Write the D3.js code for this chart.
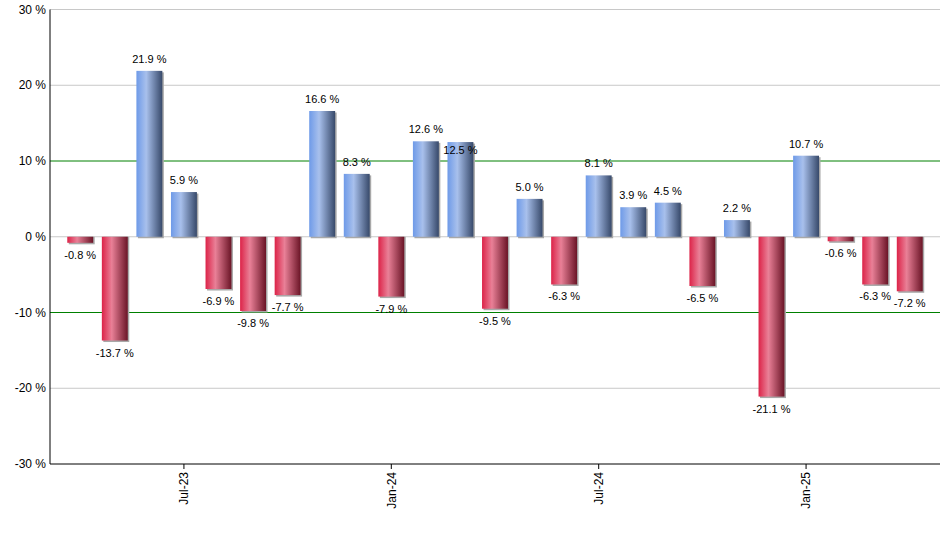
<!DOCTYPE html>
<html>
<head>
<meta charset="utf-8">
<script src="https://cdn.jsdelivr.net/npm/d3@7"></script>
<style>
  body { margin: 0; background: #fff; }
  text { font-family: Arial, "Liberation Sans", sans-serif; }
</style>
</head>
<body>
<div id="chart"></div>
<script>
// monthly returns, Apr-23 .. Apr-25
const months = ["Apr-23","May-23","Jun-23","Jul-23","Aug-23","Sep-23","Oct-23","Nov-23","Dec-23",
  "Jan-24","Feb-24","Mar-24","Apr-24","May-24","Jun-24","Jul-24","Aug-24","Sep-24","Oct-24",
  "Nov-24","Dec-24","Jan-25","Feb-25","Mar-25","Apr-25"]
const returns = [-0.8, -13.7, 21.9, 5.9, -6.9, -9.8, -7.7, 16.6, 8.3, -7.9, 12.6, 12.5, -9.5, 5.0,
  -6.3, 8.1, 3.9, 4.5, -6.5, 2.2, -21.1, 10.7, -0.6, -6.3, -7.2]
const xTickLabels = ["Jul-23", "Jan-24", "Jul-24", "Jan-25"]
const yTicks = [-30, -20, -10, 0, 10, 20, 30]
const greenLines = [-10, 10]

const svgWidth = 940
const svgHeight = 550
const margin = { left: 50, right: 0, top: 9.5, bottom: 86 }

const svg = d3.select("#chart").append("svg")
    .attr("width", svgWidth)
    .attr("height", svgHeight)

const defs = svg.append("defs")
function addGradient(id, c0, c1, c2) {
    const g = defs.append("linearGradient")
        .attr("id", id)
        .attr("x1", "0%").attr("x2", "100%")
        .attr("y1", "0%").attr("y2", "0%")
    g.append("stop").attr("offset", "0%").attr("stop-color", c0)
    g.append("stop").attr("offset", "38%").attr("stop-color", c1)
    g.append("stop").attr("offset", "100%").attr("stop-color", c2)
}
addGradient("gradPos", "#6e9ae8", "#a8c0ec", "#37496a")
addGradient("gradNeg", "#dc2348", "#e98097", "#6a1426")

const xScale = d3.scaleBand()
    .domain(months)
    .range([margin.left, svgWidth - margin.right])
    .paddingInner(0.25)
    .paddingOuter(0.5)

const yScale = d3.scaleLinear()
    .domain([-30, 30])
    .range([svgHeight - margin.bottom, margin.top])

// grid lines
svg.append("g")
    .selectAll("line")
    .data(yTicks.filter(d => d !== -30))
    .join("line")
    .attr("x1", margin.left)
    .attr("x2", svgWidth)
    .attr("y1", d => yScale(d))
    .attr("y2", d => yScale(d))
    .attr("stroke", d => greenLines.includes(d) ? "#008000" : "#c8c8c8")
    .attr("stroke-width", 1)

// bars (shadow first)
svg.append("g")
    .selectAll("rect")
    .data(returns)
    .join("rect")
    .attr("x", (d, i) => xScale(months[i]) + 1.5)
    .attr("y", d => d >= 0 ? yScale(d) + 1.5 : yScale(0))
    .attr("width", xScale.bandwidth())
    .attr("height", d => Math.abs(yScale(d) - yScale(0)) + (d < 0 ? 1.5 : 0))
    .attr("fill", "#a8a8a8")

svg.append("g")
    .selectAll("rect")
    .data(returns)
    .join("rect")
    .attr("x", (d, i) => xScale(months[i]))
    .attr("y", d => yScale(Math.max(d, 0)))
    .attr("width", xScale.bandwidth())
    .attr("height", d => Math.abs(yScale(d) - yScale(0)))
    .attr("fill", d => d >= 0 ? "url(#gradPos)" : "url(#gradNeg)")

// value labels, shift down when they sit on top of the previous label
let prev = null
const labels = returns.map((d, i) => {
    const x = xScale(months[i]) + xScale.bandwidth() / 2
    let y = d >= 0 ? yScale(d) - 8 : yScale(d) + 16
    if (prev && Math.abs(prev.x - x) < 40 && Math.abs(prev.y - y) < 3) y = prev.y + 21
    prev = { x, y }
    return { x, y, text: d.toFixed(1) + " %" }
})
svg.append("g")
    .selectAll("text")
    .data(labels)
    .join("text")
    .attr("x", d => d.x)
    .attr("y", d => d.y)
    .attr("text-anchor", "middle")
    .attr("font-size", 11)
    .attr("fill", "#000")
    .text(d => d.text)

// y axis
svg.append("line")
    .attr("x1", margin.left).attr("x2", margin.left)
    .attr("y1", yScale(30)).attr("y2", yScale(-30))
    .attr("stroke", "#000")
svg.append("g")
    .selectAll("text")
    .data(yTicks)
    .join("text")
    .attr("x", margin.left - 4)
    .attr("y", d => yScale(d) + 4)
    .attr("text-anchor", "end")
    .attr("font-size", 12)
    .text(d => d + " %")

// x axis
const xAxis = d3.axisBottom(xScale)
    .tickValues(xTickLabels)
    .tickSize(5)
    .tickSizeOuter(0)
const xg = svg.append("g")
    .attr("transform", `translate(0,${yScale(-30)})`)
    .call(xAxis)
xg.select(".domain").attr("stroke", "#000").attr("d", `M${margin.left},0H${svgWidth}`)
xg.selectAll(".tick line").attr("stroke", "#000")
xg.selectAll(".tick text")
    .attr("font-size", 12)
    .attr("font-family", "Arial, 'Liberation Sans', sans-serif")
    .attr("fill", "#000")
    .attr("transform", "rotate(-90)")
    .attr("text-anchor", "end")
    .attr("x", -8)
    .attr("y", 0)
    .attr("dy", "0.35em")
</script>
</body>
</html>
